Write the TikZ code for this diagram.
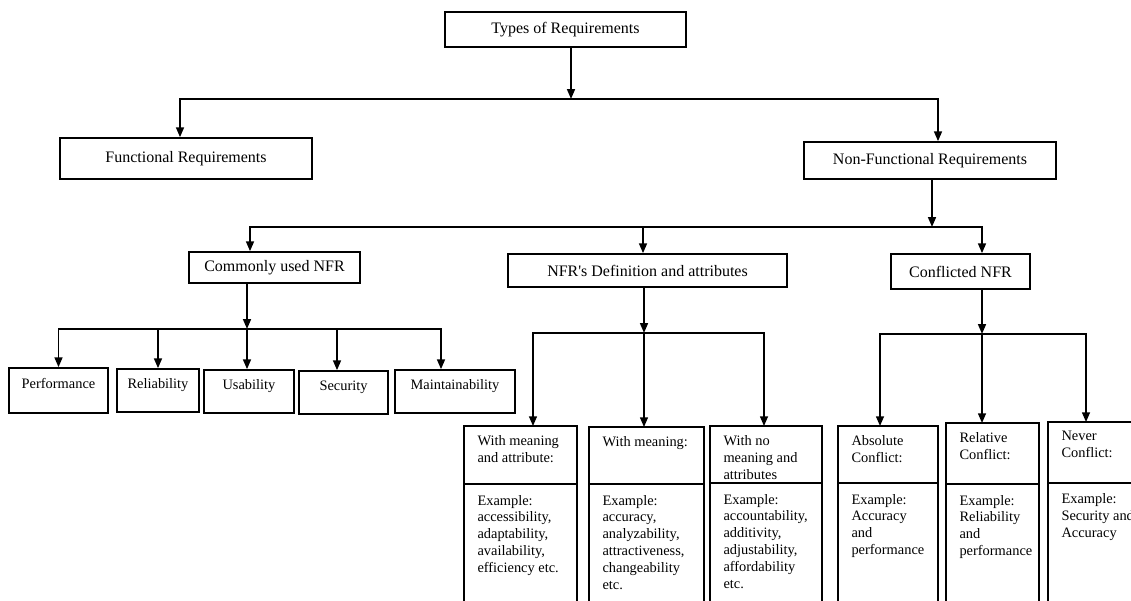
\documentclass[tikz,border=0pt]{standalone}
\usepackage{fontspec}
\setmainfont{Liberation Serif}
\usetikzlibrary{arrows.meta, positioning}
\hyphenpenalty=10000
\newcommand{\celltext}[3]{\parbox[t][#2][t]{#1}{\raggedright #3}}

\begin{document}
\begin{tikzpicture}[
  x=0.02cm, y=-0.02cm,
  topbox/.style={rectangle, draw=black, line width=1pt, inner sep=0pt, font=\fontsize{9.1}{11}\selectfont},
  leafbox/.style={rectangle, draw=black, line width=1pt, inner sep=0pt, text height=0.2cm, text depth=0.3cm, font=\fontsize{8.2}{10}\selectfont},
  headbox/.style={rectangle, draw=black, line width=1pt, anchor=north west, outer sep=0pt, inner xsep=0.27cm, inner ysep=0.19cm, font=\fontsize{8.2}{9.6}\selectfont},
  bodybox/.style={headbox, inner ysep=0.22cm},
  arrow/.style={line width=0.85pt, -{Triangle[width=4.5pt, length=5.5pt]}}
]
  \useasboundingbox (0,0) rectangle (1131,600);
  \clip (0,0) rectangle (1131,600);

  % Top levels
  \node (types) [topbox, minimum width=4.82cm, minimum height=0.70cm] at (565.5,29.5) {Types of Requirements};
  \node (func) [topbox, minimum width=5.04cm, minimum height=0.82cm] at (186,158.5) {Functional Requirements};
  \node (nonfunc) [topbox, minimum width=5.04cm, minimum height=0.74cm] at (930,160.5) {Non-Functional Requirements};
  \node (common) [topbox, minimum width=3.42cm, minimum height=0.62cm] at (274.5,267.5) {Commonly used NFR};
  \node (defn) [topbox, minimum width=5.58cm, minimum height=0.66cm] at (647.5,270.5) {NFR\textquotesingle s Definition and attributes};
  \node (confl) [topbox, minimum width=2.78cm, minimum height=0.70cm] at (960.5,271.5) {Conflicted NFR};

  % Commonly used NFR
  \node (perf) [leafbox, minimum width=1.98cm, minimum height=0.90cm] at (58.5,390.5) {Performance};
  \node (reli) [leafbox, minimum width=1.64cm, minimum height=0.86cm] at (158,390.5) {Reliability};
  \node (usab) [leafbox, minimum width=1.80cm, minimum height=0.86cm] at (249,391.5) {Usability};
  \node (secu) [leafbox, minimum width=1.78cm, minimum height=0.86cm] at (343.5,392.5) {Security};
  \node (maint) [leafbox, minimum width=2.40cm, minimum height=0.86cm] at (455,391.5) {Maintainability};

  % Definition and attributes
  \node (h1) [headbox] at (464,426) {\celltext{1.72cm}{0.78cm}{With~meaning\\and~attribute:}};
  \node (b1) [bodybox] at (h1.south west) {\celltext{1.72cm}{2.28cm}{Example:\\accessibility,\\adaptability,\\availability,\\efficiency~etc.}};
  \node (h2) [headbox] at (589,427) {\celltext{1.76cm}{0.76cm}{With~meaning:}};
  \node (b2) [bodybox] at (h2.south west) {\celltext{1.76cm}{2.28cm}{Example:\\accuracy,\\analyzability,\\attractiveness,\\changeability\\etc.}};
  \node (h3) [headbox] at (710,426) {\celltext{1.70cm}{0.76cm}{With~no\\meaning~and\\attributes}};
  \node (b3) [bodybox] at (h3.south west) {\celltext{1.70cm}{2.28cm}{Example:\\accountability,\\additivity,\\adjustability,\\affordability\\etc.}};

  % Conflicted NFR
  \node (h4) [headbox] at (838,426) {\celltext{1.46cm}{0.76cm}{Absolute\\Conflict:}};
  \node (b4) [bodybox] at (h4.south west) {\celltext{1.46cm}{2.28cm}{Example:\\Accuracy\\and\\performance}};
  \node (h5) [headbox] at (946,423) {\celltext{1.32cm}{0.84cm}{Relative\\Conflict:}};
  \node (b5) [bodybox] at (h5.south west) {\celltext{1.32cm}{2.28cm}{Example:\\Reliability\\and\\performance}};
  \node (h6) [headbox] at (1048,422) {\celltext{1.66cm}{0.84cm}{Never\\Conflict:}};
  \node (b6) [bodybox] at (h6.south west) {\celltext{1.66cm}{2.28cm}{Example:\\Security~and\\Accuracy}};

  % Connectors
  \draw [arrow] ([xshift=0.11cm]types.south) -- ++(0,51) coordinate (bus1);
  \draw [arrow] (bus1) -| ([xshift=-0.12cm]func.north);
  \draw [arrow] (bus1) -| ([xshift=0.16cm]nonfunc.north);

  \draw [arrow] ([xshift=0.04cm]nonfunc.south) -- ++(0,47) coordinate (bus2);
  \draw [arrow] (bus2) -| ([xshift=-0.49cm]common.north);
  \draw [arrow] (bus2) -| ([xshift=-0.09cm]defn.north);
  \draw [arrow] (bus2) -| ([xshift=0.43cm]confl.north);

  \draw [arrow] ([xshift=-0.55cm]common.south) -- ++(0,45) coordinate (bus3);
  \draw [arrow] (bus3) -| (perf.north);
  \draw [arrow] (bus3) -| (reli.north);
  \draw [arrow] (bus3) -| ([xshift=-0.04cm]usab.north);
  \draw [arrow] (bus3) -| ([xshift=-0.13cm]secu.north);
  \draw [arrow] (bus3) -| ([xshift=-0.28cm]maint.north);

  \draw [arrow] ([xshift=-0.07cm]defn.south) -- ++(0,45) coordinate (bus4);
  \draw [arrow] (bus4) -| ([xshift=0.25cm]h1.north);
  \draw [arrow] (bus4) -| ([xshift=-0.05cm]h2.north);
  \draw [arrow] (bus4) -| ([xshift=-0.04cm]h3.north);

  \draw [arrow] ([xshift=0.43cm]confl.south) -- ++(0,44) coordinate (bus5);
  \draw [arrow] (bus5) -| ([xshift=-0.16cm]h4.north);
  \draw [arrow] (bus5) -| ([xshift=-0.21cm]h5.north);
  \draw [arrow] (bus5) -| ([xshift=-0.34cm]h6.north);

\end{tikzpicture}
\end{document}
